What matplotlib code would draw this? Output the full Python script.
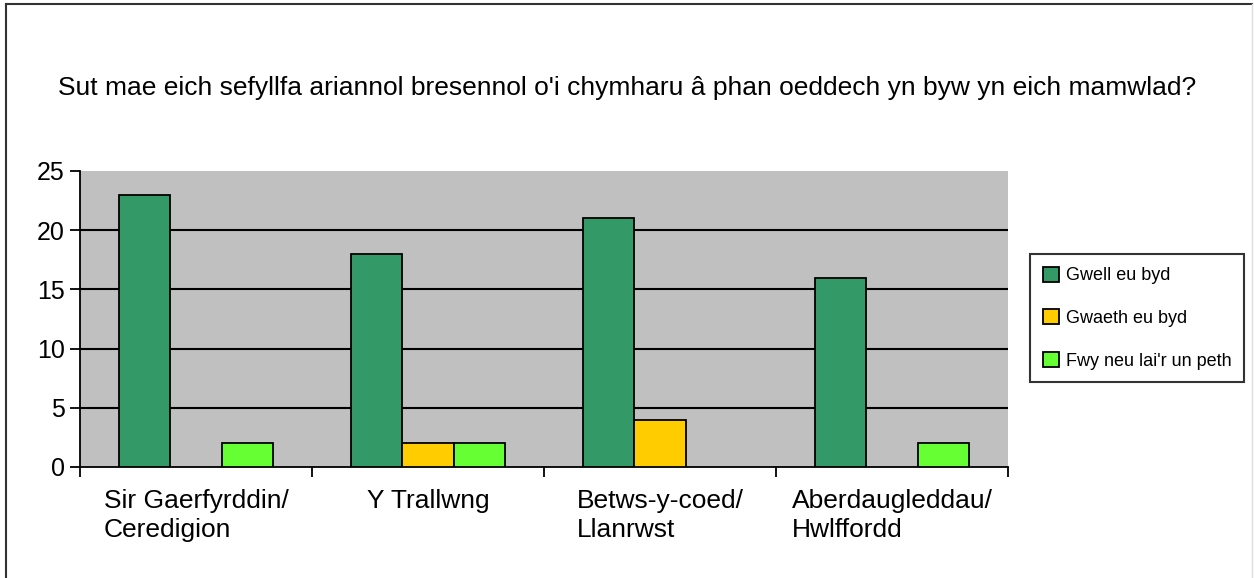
import numpy as np
import matplotlib.pyplot as plt
from matplotlib.patches import Patch
from matplotlib.lines import Line2D

plt.rcParams['font.family'] = ['Liberation Sans', 'DejaVu Sans']

# data
categories = ['Sir Gaerfyrddin/\nCeredigion', 'Y Trallwng', 'Betws-y-coed/\nLlanrwst', 'Aberdaugleddau/\nHwlffordd']
series_names = ['Gwell eu byd', 'Gwaeth eu byd', "Fwy neu lai'r un peth"]
gwell = [23, 18, 21, 16]
gwaeth = [0, 2, 4, 0]
fwy = [2, 2, 0, 2]
colors = ['#339966', '#FFCC00', '#66FF33']

title = "Sut mae eich sefyllfa ariannol bresennol o'i chymharu â phan oeddech yn byw yn eich mamwlad?"

fig = plt.figure(figsize=(12.54, 5.78), dpi=100)
ax = fig.add_axes([80 / 1254, 1 - 467 / 578, 928 / 1254, 296 / 578])
ax.set_facecolor('#C0C0C0')

x = np.arange(len(categories))
w = 0.22
for i, vals in enumerate([gwell, gwaeth, fwy]):
    v = np.array(vals, dtype=float)
    # zero values are not drawn at all
    ax.bar(x + (i - 1) * w, np.where(v > 0, v, np.nan), w, color=colors[i],
           edgecolor='black', linewidth=1.3, zorder=3)

ax.set_xlim(-0.5, len(categories) - 0.5)
ax.set_ylim(0, 25)
ax.set_yticks([0, 5, 10, 15, 20, 25])
for yv in [5, 10, 15, 20]:
    ax.axhline(yv, color='black', linewidth=1.5, zorder=1)

ax.spines['top'].set_visible(False)
ax.spines['right'].set_visible(False)
ax.spines['left'].set_linewidth(1.3)
ax.spines['bottom'].set_linewidth(1.3)

# ticks between groups, labels under group centres
ax.set_xticks(np.arange(len(categories) + 1) - 0.5)
ax.set_xticklabels([])
ax.set_xticks(x, minor=True)
ax.set_xticklabels(categories, minor=True, multialignment='left', fontsize=19,
                   linespacing=1.25)
ax.tick_params(axis='x', which='major', length=7, width=1.3, direction='out')
ax.tick_params(axis='x', which='minor', length=0, pad=16)
ax.tick_params(axis='y', length=7, width=1.3, labelsize=18, pad=4)

fig.text(0.5, 1 - 88 / 578, title, ha='center', va='center', fontsize=19)

handles = [Patch(facecolor=c, edgecolor='black', linewidth=1.3) for c in colors]
leg = fig.legend(handles, series_names, loc='upper left',
                 bbox_to_anchor=(1030 / 1254, 1 - 254 / 578), fontsize=13,
                 frameon=True, fancybox=False, edgecolor='black',
                 handlelength=0.9, handleheight=0.9, labelspacing=1.38,
                 handletextpad=0.4, borderpad=0.7, borderaxespad=0)
leg.get_frame().set_linewidth(1.5)

# outer frame (top and left edges visible)
fig.add_artist(Line2D([6 / 1254, 6 / 1254], [0, 1 - 4 / 578], color='#333333', linewidth=1.5))
fig.add_artist(Line2D([6 / 1254, 1252 / 1254], [1 - 4 / 578, 1 - 4 / 578], color='#333333', linewidth=1.5))
fig.add_artist(Line2D([1252 / 1254, 1252 / 1254], [0, 1 - 4 / 578], color='#dddddd', linewidth=1))

fig.savefig('out.png', dpi=100)
